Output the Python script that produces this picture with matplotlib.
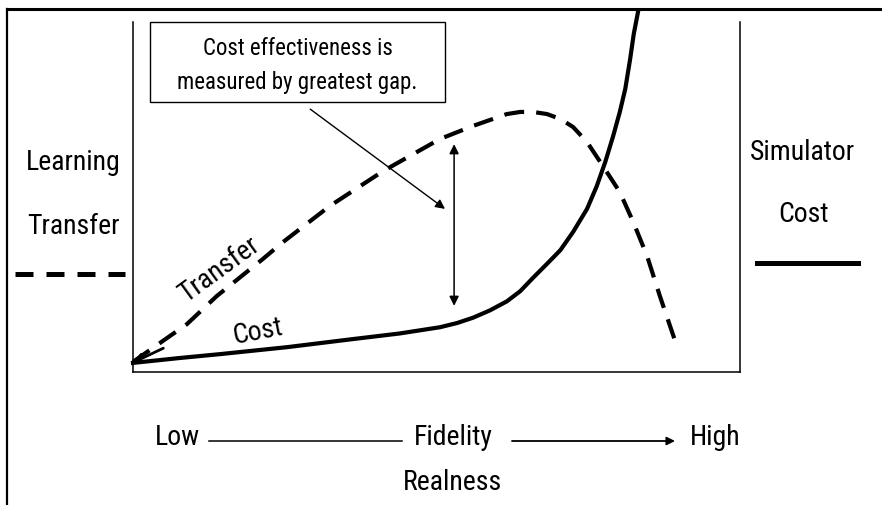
import matplotlib
matplotlib.use("Agg")
import matplotlib.pyplot as plt
from matplotlib.lines import Line2D
from matplotlib.patches import Rectangle, FancyArrowPatch

plt.rcParams['font.family'] = ['Roboto Condensed', 'Archivo Narrow', 'DejaVu Sans']

# curves (x: fidelity 0-10, y: 0-10)
cost_x = [0, 0.77, 1.43, 2.54, 3.62, 4.39, 5.06, 5.34, 5.60, 5.88, 6.16, 6.38, 6.59, 6.82,
          7.04, 7.25, 7.48, 7.64, 7.78, 7.91, 8.02, 8.11, 8.19, 8.25, 8.32]
cost_y = [0.26, 0.40, 0.51, 0.71, 0.94, 1.10, 1.28, 1.40, 1.55, 1.76, 2.02, 2.31, 2.69, 3.09,
          3.48, 4.00, 4.66, 5.31, 6.00, 6.74, 7.43, 8.09, 8.94, 9.66, 10.29]

transfer_x = [0, 0.89, 1.38, 2.14, 2.47, 3.24, 4.12, 5.06, 5.60, 6.16, 6.38, 6.59, 6.82,
              7.04, 7.25, 7.48, 7.74, 8.02, 8.24, 8.47, 8.68, 8.96]
transfer_y = [0.29, 1.37, 2.17, 3.23, 3.71, 4.74, 5.74, 6.66, 7.03, 7.37, 7.43, 7.43, 7.37,
              7.23, 7.00, 6.57, 5.89, 5.14, 4.29, 3.31, 2.17, 0.74]

box_lines = ["Cost effectiveness is", "measured by greatest gap."]
left_label = ["Learning", "Transfer"]
right_label = ["Simulator", "Cost"]

W, H = 882, 506
fig = plt.figure(figsize=(8.82, 5.06), dpi=100)

def fx(px):
    return px / W

def fy(py):
    return 1 - py / H

ax = fig.add_axes([fx(133), fy(373), fx(740) - fx(133), (373 - 23) / H])
ax.set_xlim(0, 10)
ax.set_ylim(0, 10)
ax.set_xticks([])
ax.set_yticks([])
ax.spines['top'].set_visible(False)
for s in ['left', 'right', 'bottom']:
    ax.spines[s].set_linewidth(1.1)

# curves
ax.plot(cost_x, cost_y, color='black', lw=3.0, solid_joinstyle='round', clip_on=False)
ax.plot(transfer_x, transfer_y, color='black', lw=3.0, dashes=(4.8, 2.9), clip_on=False)
ax.annotate("", xy=(0.0, 0.27), xytext=(0.5, 0.68),
            arrowprops=dict(arrowstyle='->', lw=2.0, color='black',
                            shrinkA=0, shrinkB=0, mutation_scale=14))

# curve labels
ax.text(1.42, 2.95, "Transfer", rotation=36, fontsize=20, ha='center', va='center')
ax.text(2.05, 1.19, "Cost", rotation=11, fontsize=20, ha='center', va='center')

# note box and arrows
ax.add_patch(Rectangle((0.28, 7.71), 4.86, 2.29, fill=False, lw=1.0, ec='black', clip_on=False))
ax.text(2.71, 9.26, box_lines[0], fontsize=16.5, ha='center', va='center')
ax.text(2.71, 8.29, box_lines[1], fontsize=16.5, ha='center', va='center')
ax.annotate("", xy=(5.14, 4.66), xytext=(2.92, 7.51),
            arrowprops=dict(arrowstyle='-|>', lw=1.0, color='black',
                            shrinkA=0, shrinkB=0, mutation_scale=14))
ax.annotate("", xy=(5.29, 6.51), xytext=(5.29, 1.89),
            arrowprops=dict(arrowstyle='<|-|>', lw=1.1, color='black',
                            shrinkA=0, shrinkB=0, mutation_scale=14))

# side labels
fig.text(fx(73), fy(163), left_label[0], fontsize=20, ha='center', va='center')
fig.text(fx(73), fy(227), left_label[1], fontsize=20, ha='center', va='center')
fig.add_artist(Line2D([fx(15), fx(125)], [fy(275), fy(275)], color='black', lw=3.6,
                      dashes=(3.6, 2.6)))
fig.text(fx(802), fy(153), right_label[0], fontsize=20, ha='center', va='center')
fig.text(fx(804), fy(215), right_label[1], fontsize=20, ha='center', va='center')
fig.add_artist(Line2D([fx(757), fx(858)], [fy(264), fy(264)], color='black', lw=3.6))

# bottom axis description
fig.text(fx(177), fy(438), "Low", fontsize=20, ha='center', va='center')
fig.text(fx(453), fy(438), "Fidelity", fontsize=20, ha='center', va='center')
fig.text(fx(715), fy(438), "High", fontsize=20, ha='center', va='center')
fig.text(fx(452), fy(482), "Realness", fontsize=20, ha='center', va='center')
fig.add_artist(Line2D([fx(209), fx(402)], [fy(442), fy(442)], color='black', lw=1.1))
fig.add_artist(FancyArrowPatch((fx(512), fy(442)), (fx(675), fy(442)),
                               transform=fig.transFigure, arrowstyle='-|>',
                               mutation_scale=12, lw=1.3, color='black',
                               shrinkA=0, shrinkB=0))

# outer frame (top and left only)
fig.add_artist(Line2D([fx(7), fx(882)], [fy(10), fy(10)], color='black', lw=2.2))
fig.add_artist(Line2D([fx(7), fx(7)], [fy(10), fy(506)], color='black', lw=1.6))

fig.savefig("out.png", dpi=100)
